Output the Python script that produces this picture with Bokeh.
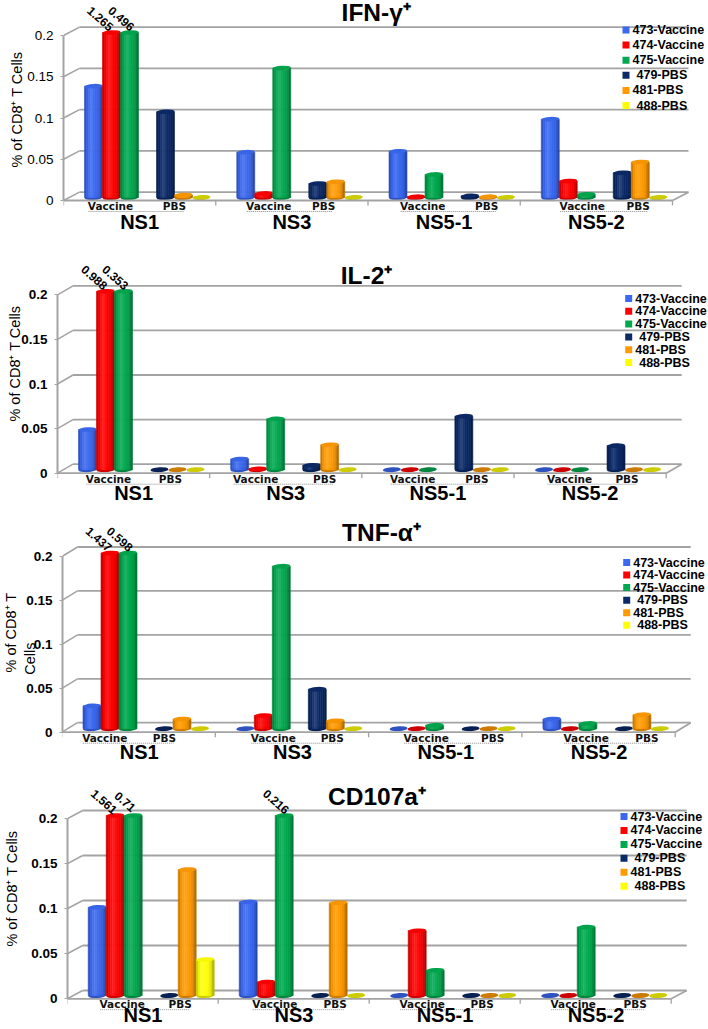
from bokeh.embed import file_html
from bokeh.layouts import column
from bokeh.models import ColumnDataSource, FixedTicker, Label, Range1d
from bokeh.plotting import figure
from bokeh.resources import INLINE

antigens = ["NS1", "NS3", "NS5-1", "NS5-2"]
series = ["473-Vaccine", "474-Vaccine", "475-Vaccine", "479-PBS", "481-PBS", "488-PBS"]

# one row per series, one column per antigen (values above 0.2 run off the capped axis)
ifn_gamma = [
    [0.135, 0.055, 0.056, 0.095],
    [1.265, 0.005, 0.001, 0.020],
    [0.496, 0.157, 0.028, 0.004],
    [0.104, 0.017, 0.002, 0.030],
    [0.003, 0.019, 0.001, 0.043],
    [0.000, 0.000, 0.000, 0.000],
]
il_2 = [
    [0.045, 0.012, 0.000, 0.000],
    [0.988, 0.001, 0.000, 0.000],
    [0.353, 0.057, 0.000, 0.000],
    [0.000, 0.005, 0.060, 0.027],
    [0.000, 0.028, 0.000, 0.000],
    [0.000, 0.000, 0.000, 0.000],
]
tnf_alpha = [
    [0.026, 0.000, 0.000, 0.011],
    [1.437, 0.015, 0.000, 0.000],
    [0.598, 0.185, 0.004, 0.006],
    [0.000, 0.045, 0.000, 0.000],
    [0.011, 0.009, 0.000, 0.016],
    [0.000, 0.000, 0.000, 0.000],
]
cd107a = [
    [0.098, 0.104, 0.000, 0.000],
    [1.561, 0.015, 0.072, 0.000],
    [0.710, 0.216, 0.028, 0.076],
    [0.000, 0.000, 0.000, 0.000],
    [0.140, 0.103, 0.000, 0.000],
    [0.040, 0.000, 0.000, 0.000],
]

y_ticks = [0, 0.05, 0.1, 0.15, 0.2]
AXIS_CAP = 0.2

COLORS = ["#3a68f0", "#ff0000", "#00a84f", "#0b2a68", "#ff9a00", "#ffff00"]
SLOTS = [0, 1, 2, 4, 5, 6]
SHADE = [0.8, 0.95, 1.03, 1.06, 1.03, 1.0, 0.97, 0.9, 0.72]
LEGEND_NUDGE = [0, 0, 0, 4, 0, 4]
GRID = "#a3a3a3"
FONT = "Liberation Sans"


def shade(hex_color, f):
    rgb = [int(hex_color[i:i + 2], 16) for i in (1, 3, 5)]
    if f <= 1:
        out = [int(c * f) for c in rgb]
    else:
        out = [int(c + (255 - c) * (f - 1) * 2) for c in rgb]
    return "#%02x%02x%02x" % tuple(out)


# page-pixel geometry of each panel
PANELS = [
    dict(title="IFN-\u03b3\u207a", data=ifn_gamma, top=0, frame_top=0, bottom=240, frame_bottom=218, ns_standoff=-8,
         ax=63, right=672, y0=200, y02=35, back_dx=16, back_dy=8.3, base=3, title_x=375.7, title_y=12, tick_style="normal",
         vacc=[47, 53, 54.7, 62], pbs=[111, 108, 118.7, 118],
         legend_x=622, legend_top=29.5, pitch=15.1,
         ylabel="% of CD8\u207a T Cells", ylabel_standoff=-1),
    dict(title="IL-2\u207a", data=il_2, top=240, frame_top=241, bottom=508, frame_bottom=485, ns_standoff=-4,
         ax=57, right=665.7, y0=472.7, y02=294.3, back_dx=15.5, back_dy=9, base=3.5, title_x=366, title_y=275, tick_style="bold",
         vacc=[51, 46, 50.8, 55.5], pbs=[113, 115, 115, 113],
         legend_x=624.7, legend_top=298, pitch=12.8,
         ylabel="% of CD8\u207a T Cells", ylabel_standoff=-5),
    dict(title="TNF-\u03b1\u207a", data=tnf_alpha, top=508, frame_top=520, bottom=766, frame_bottom=744, ns_standoff=-4,
         ax=61.5, right=674.7, y0=731.7, y02=556, back_dx=15.5, back_dy=9.5, base=3.5, title_x=381, title_y=532, tick_style="bold",
         vacc=[42.8, 58, 57.6, 64.3], pbs=[102.5, 117, 124, 125],
         legend_x=622.7, legend_top=562, pitch=12.55,
         ylabel="% of CD8\u207a T\nCells" + "\u00a0" * 13, ylabel_standoff=-15),
    dict(title="CD107a\u207a", data=cd107a, top=766, frame_top=766, bottom=1029, frame_bottom=1010, ns_standoff=-7,
         ax=66.7, right=670.7, y0=998.3, y02=818.3, back_dx=15.5, back_dy=8.3, base=3.3, title_x=376.5, title_y=796, tick_style="bold",
         vacc=[55, 56.6, 53, 53], pbs=[113, 117, 113, 115],
         legend_x=620, legend_top=816, pitch=13.95,
         ylabel="% of CD8\u207a T Cells", ylabel_standoff=8),
]


def make_panel(cfg):
    scale = (cfg["y0"] - cfg["y02"]) / AXIS_CAP
    border_left = int(round(cfg["ax"]))
    unit = (cfg["right"] - cfg["ax"]) / 4
    px_x = lambda px: (px - border_left) / unit
    px_y = lambda px: (cfg["y0"] - px) / scale
    height = cfg["bottom"] - cfg["top"]
    p = figure(
        width=708, height=height, output_backend="svg", toolbar_location=None, align="start",
        x_range=Range1d(0, px_x(708)), y_range=Range1d(px_y(cfg["frame_bottom"]), px_y(cfg["frame_top"])),
        min_border_left=border_left, min_border_right=0, min_border_top=int(cfg["frame_top"] - cfg["top"]),
        min_border_bottom=int(cfg["bottom"] - cfg["frame_bottom"]),
        outline_line_color=None,
    )
    p.grid.visible = False

    # y axis
    ya = p.yaxis[0]
    ya.ticker = FixedTicker(ticks=y_ticks)
    ya.bounds = (0, AXIS_CAP)
    ya.axis_line_color = GRID
    ya.axis_line_width = 2
    ya.major_tick_line_color = GRID
    ya.major_tick_in = 0
    ya.major_tick_out = 3
    ya.minor_tick_line_color = None
    ya.major_label_standoff = 7
    ya.major_label_text_font = FONT
    ya.major_label_text_font_size = "13.5px"
    ya.major_label_text_font_style = cfg["tick_style"]
    ya.major_label_text_color = "black"
    ya.axis_label = cfg["ylabel"]
    ya.axis_label_text_font = FONT
    ya.axis_label_text_font_size = "14.5px"
    ya.axis_label_text_font_style = "normal"
    ya.axis_label_text_color = "black"
    ya.axis_label_standoff = cfg["ylabel_standoff"]

    # antigen names
    xa = p.xaxis[0]
    xa.ticker = FixedTicker(ticks=[i + 0.5 for i in range(4)])
    xa.major_label_overrides = {i + 0.5: name for i, name in enumerate(antigens)}
    xa.axis_line_color = None
    xa.major_tick_line_color = None
    xa.minor_tick_line_color = None
    xa.major_tick_out = 0
    xa.major_tick_in = 0
    xa.major_label_standoff = cfg["ns_standoff"]
    xa.major_label_text_font = FONT
    xa.major_label_text_font_size = "20px"
    xa.major_label_text_font_style = "bold"
    xa.major_label_text_color = "black"

    # 3-D walls and floor
    x_left = px_x(cfg["ax"])
    x_right = px_x(cfg["right"])
    back_x0 = px_x(cfg["ax"] + cfg["back_dx"])
    back_x1 = px_x(cfg["right"] + cfg["back_dx"])
    lift = cfg["back_dy"] / scale
    p.segment(x0=[back_x0] * len(y_ticks), y0=[t + lift for t in y_ticks],
              x1=[back_x1] * len(y_ticks), y1=[t + lift for t in y_ticks],
              line_color=GRID, line_width=1.8)
    p.segment(x0=[x_left] * len(y_ticks), y0=y_ticks, x1=[back_x0] * len(y_ticks),
              y1=[t + lift for t in y_ticks], line_color=GRID, line_width=1.5)
    p.segment(x0=[x_left, x_right], y0=[0, 0], x1=[x_right, back_x1], y1=[0, lift], line_color=GRID, line_width=1.8)
    p.segment(x0=[x_left + g for g in range(5)], y0=[0] * 5, x1=[x_left + g for g in range(5)], y1=[-5 / scale] * 5,
              line_color=GRID, line_width=1.3)

    # cylinders
    slot = 18 / unit
    first = 30 / unit
    base = cfg["base"] / scale
    strip = slot / len(SHADE)
    notes = []
    for s, row in enumerate(cfg["data"]):
        xs = [x_left + g + first + SLOTS[s] * slot for g in range(4)]
        caps = [min(v, AXIS_CAP) for v in row]
        keep = [i for i, v in enumerate(caps) if v > 0]
        for k, f in enumerate(SHADE):
            col = shade(COLORS[s], f)
            src = ColumnDataSource(dict(
                x=[xs[i] - slot / 2 + (k + 0.5) * strip for i in keep],
                bottom=[base] * len(keep),
                top=[base + caps[i] for i in keep],
            ))
            p.vbar(x="x", bottom="bottom", top="top", width=strip, source=src,
                   fill_color=col, line_color=col, line_width=0.6)
        p.ellipse(x=xs, y=[base] * 4, width=slot, height=5, width_units="data", height_units="screen",
                  angle=0.06, fill_color=shade(COLORS[s], 0.8), line_color=None,
                  level="underlay")
        p.ellipse(x=[xs[i] for i in keep], y=[base + caps[i] for i in keep], width=slot, height=4.5,
                  width_units="data", height_units="screen", angle=0.06,
                  fill_color=shade(COLORS[s], 0.97), line_color=None)
        for i, v in enumerate(row):
            if v > AXIS_CAP:
                notes.append((xs[i], base + AXIS_CAP, f"{v:g}", -11 if s == 1 else -8))

    # off-scale values
    if notes:
        p.text(x=[n[0] for n in notes], y=[n[1] for n in notes], text=[n[2] for n in notes],
               x_offset=[n[3] for n in notes], y_offset=[-14] * len(notes), angle=-0.72,
               text_font={"value": FONT}, text_font_size={"value": "12px"}, text_color="black",
               text_font_style="bold", text_align="center", text_baseline="middle")

    # Vaccine / PBS labels and their dotted underlines
    lab_y = px_y(cfg["y0"] + 5.5)
    lab_x = [px_x(cfg["ax"] + g * unit + o) for g, o in enumerate(cfg["vacc"])]
    pbs_x = [px_x(cfg["ax"] + g * unit + o) for g, o in enumerate(cfg["pbs"])]
    p.text(x=lab_x + pbs_x, y=[lab_y] * 8, text=["Vaccine"] * 4 + ["PBS"] * 4,
           text_font={"value": "DejaVu Sans"}, text_font_size={"value": "10.5px"},
           text_font_style="bold", text_color="#111111", text_align="center", text_baseline="middle")
    und_y = px_y(cfg["y0"] + 11)
    p.segment(x0=[x - 22 / unit for x in lab_x], y0=[und_y] * 4, x1=[x + 9 / unit for x in pbs_x], y1=[und_y] * 4,
              line_color="#8a8a8a", line_width=1, line_dash="1 1")

    # title
    p.add_layout(Label(x=px_x(cfg["title_x"]), y=px_y(cfg["title_y"]), text=cfg["title"], text_font=FONT,
                       text_font_size="24.5px", text_font_style="bold", text_color="black",
                       text_align="center", text_baseline="middle"))

    # legend key
    rows = [cfg["legend_top"] + i * cfg["pitch"] for i in range(len(series))]
    p.scatter(x=[px_x(cfg["legend_x"] + 3.5)] * len(series), y=[px_y(r) for r in rows], marker="square", size=7,
              fill_color=COLORS, line_color=None)
    p.text(x=[px_x(cfg["legend_x"] + 10 + n) for n in LEGEND_NUDGE], y=[px_y(r) for r in rows], text=series,
           text_font={"value": FONT}, text_font_size={"value": "12.5px"}, text_font_style="bold",
           text_color="black", text_align="left", text_baseline="middle")
    return p


figs = [make_panel(cfg) for cfg in PANELS]
page = column(*[column(f) for f in figs], spacing=0)
open("out.html", "w").write(file_html(page, INLINE))
